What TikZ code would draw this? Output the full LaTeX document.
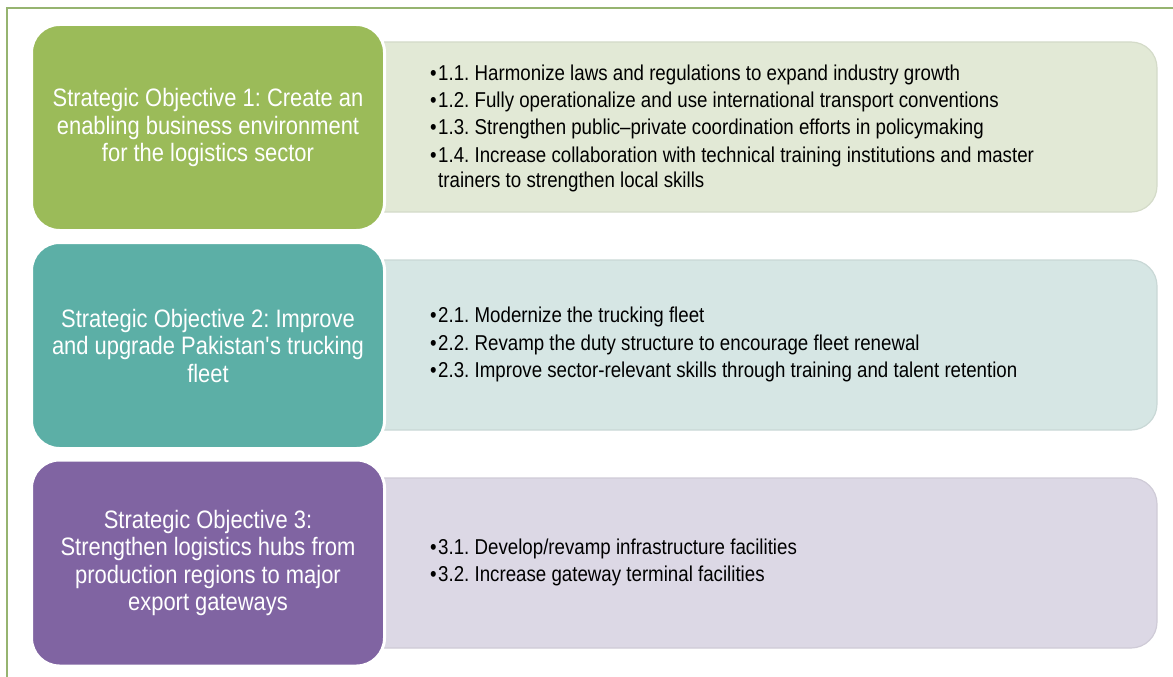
\documentclass[tikz,border=0pt]{standalone}
\usepackage{fontspec}
\setmainfont[FakeStretch=0.87]{Liberation Sans}
\usetikzlibrary{positioning}
\definecolor{soA}{RGB}{155,187,89}
\definecolor{soB}{RGB}{92,175,166}
\definecolor{soC}{RGB}{128,100,162}
\definecolor{soA light}{RGB}{226,233,214}
\definecolor{soB light}{RGB}{214,230,228}
\definecolor{soC light}{RGB}{220,216,229}
\definecolor{frameline}{RGB}{150,180,112}
\frenchspacing

\begin{document}
\begin{tikzpicture}[x=1pt, y=-1pt,
    objective/.style={rounded corners=28pt, draw=white, line width=3pt,
      minimum width=353pt, minimum height=206pt, align=center,
      text=white, font=\fontsize{25.2}{27.5}\selectfont},
    actions/.style={rounded corners=26pt, line width=1.2pt,
      minimum width=857pt, minimum height=170pt},
    items/.style={anchor=west, align=left, inner sep=0pt,
      font=\fontsize{21.5}{25}\selectfont}
  ]
  \useasboundingbox (0,0) rectangle (1173,677);

  % outer frame, only top and left edges show
  \draw [frameline, line width=1.2pt] (7,677) -- (7,8) -- (1173,8);

  % action panels go first, the objectives sit on top of their left ends
  \node [actions, fill=soA light, draw=soA light!94!black] (act1) at (728.5,127) {};
  \node [actions, fill=soB light, draw=soB light!94!black] (act2) at (728.5,345) {};
  \node [actions, fill=soC light, draw=soC light!94!black] (act3) at (728.5,563) {};

  \node [objective, fill=soA] (obj1) at (208,127.5)
    {Strategic Objective 1: Create an\\enabling business environment\\for the logistics sector};
  \node [objective, fill=soB] (obj2) at (208,345.5)
    {Strategic Objective 2: Improve\\and upgrade Pakistan\textquotesingle s trucking\\fleet};
  \node [objective, fill=soC] (obj3) at (208,563)
    {Strategic Objective 3:\\Strengthen logistics hubs from\\production regions to major\\export gateways};

  \node [items] (list1) at (430,128) {%
    •\kern1.5pt1.1. Harmonize laws and regulations to expand industry growth\\[2.3pt]
    •\kern1.5pt1.2. Fully operationalize and use international transport conventions\\[2.3pt]
    •\kern1.5pt1.3. Strengthen public–private coordination efforts in policymaking\\[2.3pt]
    •\kern1.5pt1.4. Increase collaboration with technical training institutions and master\\
    \hspace*{8pt}trainers to strengthen local skills};
  \node [items] (list2) at (430,344.5) {%
    •\kern1.5pt2.1. Modernize the trucking fleet\\[2.3pt]
    •\kern1.5pt2.2. Revamp the duty structure to encourage fleet renewal\\[2.3pt]
    •\kern1.5pt2.3. Improve sector-relevant skills through training and talent retention};
  \node [items] (list3) at (430,562.5) {%
    •\kern1.5pt3.1. Develop/revamp infrastructure facilities\\[2.3pt]
    •\kern1.5pt3.2. Increase gateway terminal facilities};
\end{tikzpicture}
\end{document}
